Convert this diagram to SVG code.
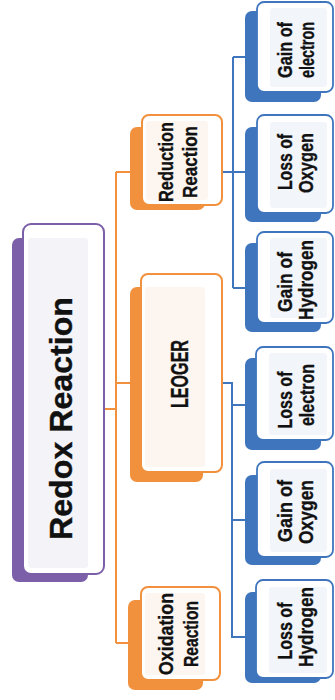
<svg xmlns="http://www.w3.org/2000/svg" width="335" height="700" viewBox="0 0 335 700">
<style>
.bg{fill:#ffffff}
.pS{fill:#7b5fa8}
.pF{fill:#ffffff;stroke:#7b5fa8;stroke-width:2}
.pI{fill:#f4f3f8}
.oS{fill:#f2913d}
.oF{fill:#ffffff;stroke:#f2913d;stroke-width:2}
.oI{fill:#fdf6f0}
.bS{fill:#3f75bd}
.bF{fill:#ffffff;stroke:#3f75bd;stroke-width:1.8}
.bI{fill:#f2f5fa}
.t{font-family:"Liberation Sans",Arial,sans-serif;font-weight:bold;fill:#111111;stroke:#111111;stroke-width:0.35;text-anchor:middle}
.oc{fill:none;stroke:#f2913d;stroke-width:2}
.bc{fill:none;stroke:#3f75bd;stroke-width:2}
.fb{fill:none;stroke:#c9dbef;stroke-width:2}
.fo{fill:none;stroke:#fbe0c8;stroke-width:2}
</style>
<rect class="bg" x="0" y="0" width="335" height="700"/>

<g id="connectors">
  <path class="fo" d="M88,409 H104"/>
  <path class="oc" d="M104,409 H116 M116,172 V643 M116,172 H130 M116,383 H130 M116,643 H128"/>
  <path class="fb" d="M207,172 H222 M207,383 H222"/>
  <path class="bc" d="M222,172 H245 M233,57 V288 M233,57 H245 M233,288 H245"/>
  <path class="bc" d="M222,383 H232 V637 H245 M232,405 H245 M232,520 H245"/>
</g>

<g id="root">
  <rect class="pS" x="12" y="238" width="76" height="344" rx="7"/>
  <rect class="pF" x="23" y="224" width="81" height="350" rx="8"/>
  <rect class="pI" x="28" y="238" width="60" height="330" rx="3"/>
  <text class="t" transform="translate(72,418.5) rotate(-90)" x="0" y="0" font-size="32" textLength="243" lengthAdjust="spacingAndGlyphs">Redox Reaction</text>
</g>

<g id="reduction">
  <rect class="oS" x="130" y="127" width="75" height="83" rx="7"/>
  <rect class="oF" x="142" y="115" width="80" height="90" rx="7"/>
  <rect class="oI" x="146" y="121" width="62" height="79" rx="3"/>
  <text class="t" transform="translate(173,162) rotate(-90)" font-size="21" textLength="80" lengthAdjust="spacingAndGlyphs">Reduction</text>
  <text class="t" transform="translate(197,162) rotate(-90)" font-size="21" textLength="72" lengthAdjust="spacingAndGlyphs">Reaction</text>
</g>

<g id="leoger">
  <rect class="oS" x="130" y="287" width="73" height="195" rx="7"/>
  <rect class="oF" x="141" y="274" width="81" height="198" rx="7"/>
  <rect class="oI" x="145" y="287" width="60" height="180" rx="3"/>
  <text class="t" transform="translate(188,374) rotate(-90)" font-size="23" textLength="68" lengthAdjust="spacingAndGlyphs">LEOGER</text>
</g>

<g id="oxidation">
  <rect class="oS" x="128" y="600" width="75" height="90" rx="7"/>
  <rect class="oF" x="141" y="587" width="79" height="93" rx="7"/>
  <rect class="oI" x="145" y="593" width="60" height="82" rx="3"/>
  <text class="t" transform="translate(173,634) rotate(-90)" font-size="21" textLength="82" lengthAdjust="spacingAndGlyphs">Oxidation</text>
  <text class="t" transform="translate(198,634) rotate(-90)" font-size="21" textLength="66" lengthAdjust="spacingAndGlyphs">Reaction</text>
</g>

<g id="gain-electron">
  <rect class="bS" x="245" y="11" width="76" height="91" rx="7"/>
  <rect class="bF" x="257" y="2" width="76" height="90" rx="7"/>
  <rect class="bI" x="270" y="8" width="57" height="79" rx="3"/>
  <text class="t" transform="translate(292,50) rotate(-90)" font-size="21" textLength="56" lengthAdjust="spacingAndGlyphs">Gain of</text>
  <text class="t" transform="translate(314,50) rotate(-90)" font-size="21" textLength="56" lengthAdjust="spacingAndGlyphs">electron</text>
</g>

<g id="loss-oxygen">
  <rect class="bS" x="245" y="127" width="76" height="95" rx="7"/>
  <rect class="bF" x="257" y="115" width="76" height="98" rx="7"/>
  <rect class="bI" x="270" y="122" width="57" height="86" rx="3"/>
  <text class="t" transform="translate(292,162) rotate(-90)" font-size="21" textLength="56" lengthAdjust="spacingAndGlyphs">Loss of</text>
  <text class="t" transform="translate(313,163) rotate(-90)" font-size="21" textLength="60" lengthAdjust="spacingAndGlyphs">Oxygen</text>
</g>

<g id="gain-hydrogen">
  <rect class="bS" x="245" y="243" width="76" height="89" rx="7"/>
  <rect class="bF" x="257" y="232" width="76" height="91" rx="7"/>
  <rect class="bI" x="270" y="238" width="57" height="80" rx="3"/>
  <text class="t" transform="translate(292,282) rotate(-90)" font-size="21" textLength="60" lengthAdjust="spacingAndGlyphs">Gain of</text>
  <text class="t" transform="translate(313,280) rotate(-90)" font-size="21" textLength="80" lengthAdjust="spacingAndGlyphs">Hydrogen</text>
</g>

<g id="loss-electron">
  <rect class="bS" x="245" y="358" width="76" height="92" rx="7"/>
  <rect class="bF" x="256" y="347" width="77" height="93" rx="7"/>
  <rect class="bI" x="269" y="353" width="58" height="82" rx="3"/>
  <text class="t" transform="translate(292,400) rotate(-90)" font-size="21" textLength="57" lengthAdjust="spacingAndGlyphs">Loss of</text>
  <text class="t" transform="translate(314,395) rotate(-90)" font-size="21" textLength="62" lengthAdjust="spacingAndGlyphs">electron</text>
</g>

<g id="gain-oxygen">
  <rect class="bS" x="245" y="475" width="76" height="90" rx="7"/>
  <rect class="bF" x="257" y="462" width="76" height="95" rx="7"/>
  <rect class="bI" x="270" y="469" width="57" height="83" rx="3"/>
  <text class="t" transform="translate(292,511) rotate(-90)" font-size="21" textLength="62" lengthAdjust="spacingAndGlyphs">Gain of</text>
  <text class="t" transform="translate(313,512) rotate(-90)" font-size="21" textLength="64" lengthAdjust="spacingAndGlyphs">Oxygen</text>
</g>

<g id="loss-hydrogen">
  <rect class="bS" x="245" y="592" width="76" height="91" rx="7"/>
  <rect class="bF" x="256" y="580" width="77" height="98" rx="7"/>
  <rect class="bI" x="269" y="587" width="58" height="86" rx="3"/>
  <text class="t" transform="translate(292,631) rotate(-90)" font-size="21" textLength="57" lengthAdjust="spacingAndGlyphs">Loss of</text>
  <text class="t" transform="translate(313,627) rotate(-90)" font-size="21" textLength="80" lengthAdjust="spacingAndGlyphs">Hydrogen</text>
</g>
</svg>
